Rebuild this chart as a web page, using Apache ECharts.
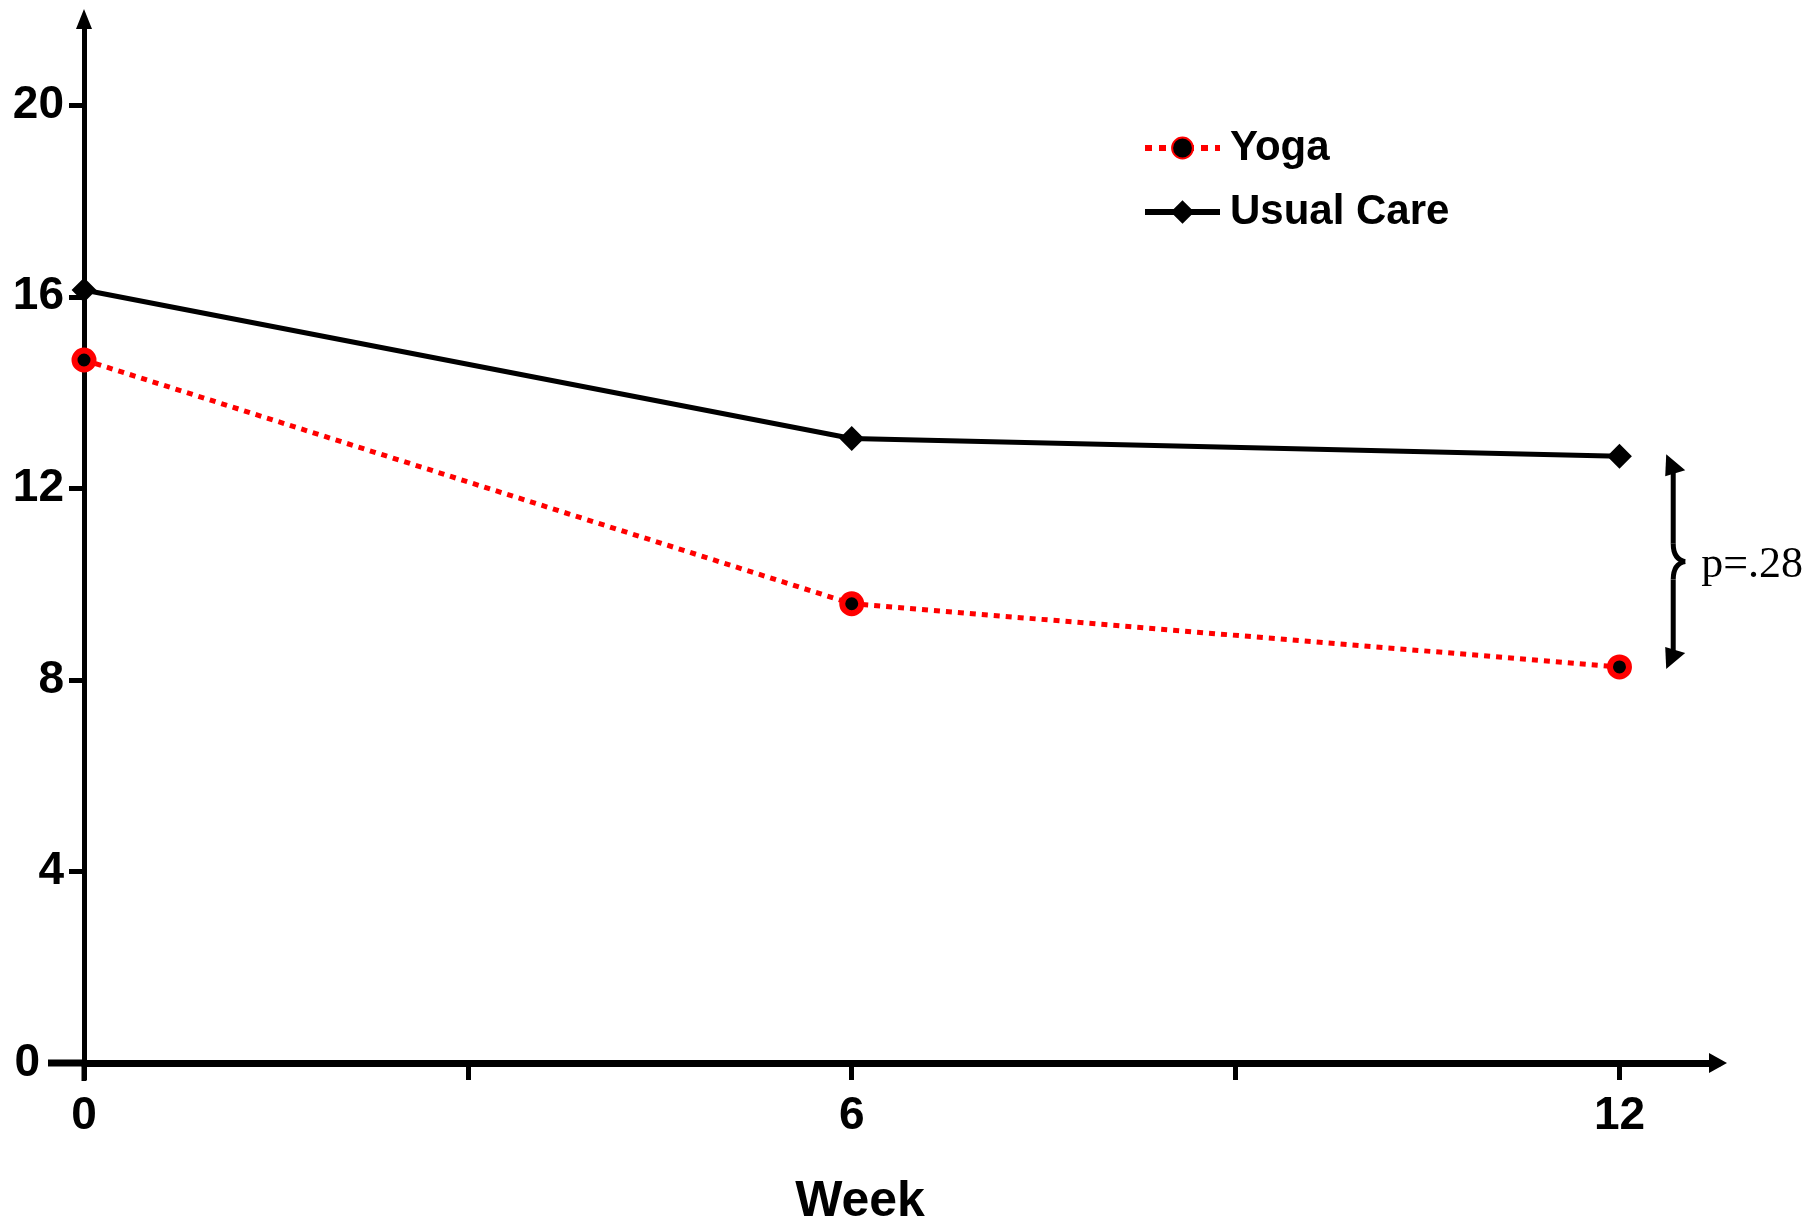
<!DOCTYPE html>
<html>
<head>
<meta charset="utf-8">
<script src="https://cdn.jsdelivr.net/npm/echarts@6/dist/echarts.min.js"></script>
<style>
html, body { margin: 0; padding: 0; background: #fff; }
#main { width: 1810px; height: 1221px; }
</style>
</head>
<body>
<div id="main"></div>
<script>
var weeks = [0, 6, 12];
var yoga = [14.68, 9.59, 8.27];
var usualCare = [16.14, 13.04, 12.67];
var yTicks = [0, 4, 8, 12, 16, 20];
var xTicks = [0, 3, 6, 9, 12];
var xLabels = [0, 6, 12];
var pText = 'p=.28';

var font = '"Liberation Sans", Arial, Helvetica, sans-serif';

function pairs(xs, ys) {
    return xs.map(function (x, i) { return [x, ys[i]]; });
}

var myChart = echarts.init(document.getElementById('main'));
var option = {
    animation: false,
    grid: { left: 84, right: 92, top: 19, bottom: 158, outerBoundsMode: 'none', containLabel: false },
    legend: {
        orient: 'vertical',
        left: 1137,
        top: 122,
        itemWidth: 75,
        itemHeight: 26,
        itemGap: 22,
        data: [
            { name: 'Yoga', lineStyle: { color: '#ff0000', width: 6, type: [7, 7] } },
            { name: 'Usual Care', lineStyle: { color: '#000', width: 6 } }
        ],
        textStyle: { fontSize: 42, fontWeight: 'bold', fontFamily: font, color: '#000', padding: [0, 0, 0, 5] }
    },
    xAxis: {
        type: 'value',
        min: 0,
        max: 12.77,
        name: 'Week',
        nameLocation: 'middle',
        nameGap: 114,
        nameTextStyle: { fontSize: 50, fontWeight: 'bold', fontFamily: font, color: '#000', padding: [0, 82, 0, 0] },
        splitLine: { show: false },
        axisLine: { lineStyle: { color: '#000', width: 7 }, symbol: ['none', 'triangle'], symbolSize: [20, 18] },
        axisTick: { show: true, length: 17, lineStyle: { color: '#000', width: 5 }, customValues: xTicks },
        axisLabel: { margin: 30, fontSize: 46, fontWeight: 'bold', fontFamily: font, color: '#000', customValues: xLabels }
    },
    yAxis: {
        type: 'value',
        min: 0,
        max: 21.8,
        splitLine: { show: false },
        axisLine: { lineStyle: { color: '#000', width: 5 }, symbol: ['none', 'triangle'], symbolSize: [16, 20] },
        axisTick: { show: true, length: 15, lineStyle: { color: '#000', width: 5 }, customValues: yTicks },
        axisLabel: {
            margin: 20, fontSize: 46, fontWeight: 'bold', fontFamily: font, color: '#000', customValues: yTicks,
            formatter: function (v) { return v === 0 ? '{z|0}' : String(v); },
            rich: { z: { fontSize: 46, fontWeight: 'bold', fontFamily: font, color: '#000', padding: [0, 24, 0, 0] } }
        }
    },
    series: [
        {
            name: 'Yoga',
            type: 'line',
            clip: false,
            z: 3,
            data: pairs(weeks, yoga),
            symbol: 'circle',
            symbolSize: 19,
            itemStyle: { color: '#000', borderColor: '#ff0000', borderWidth: 6 },
            lineStyle: { color: '#ff0000', width: 5, type: [6, 6], cap: 'butt' }
        },
        {
            name: 'Usual Care',
            type: 'line',
            clip: false,
            z: 4,
            data: pairs(weeks, usualCare),
            symbol: 'diamond',
            symbolSize: 22,
            itemStyle: { color: '#000', borderColor: '#000', borderWidth: 2 },
            lineStyle: { color: '#000', width: 5 }
        }
    ]
};
myChart.setOption(option);

// bracket with p value between the week 12 points
var bx = 12.42;
var pTop = myChart.convertToPixel({ gridIndex: 0 }, [bx, usualCare[2]]);
var pBot = myChart.convertToPixel({ gridIndex: 0 }, [bx, yoga[2]]);
var origin = myChart.convertToPixel({ gridIndex: 0 }, [0, 0]);
var x = pTop[0], yt = pTop[1], yb = pBot[1], ym = (yt + yb) / 2;
var stroke = { stroke: '#000', lineWidth: 5, fill: null };

myChart.setOption({
    graphic: [
        // axis overhangs at the origin
        { type: 'polyline', shape: { points: [[origin[0] - 36, origin[1]], [origin[0], origin[1]]] }, style: { stroke: '#000', lineWidth: 7 } },
        { type: 'polyline', shape: { points: [[origin[0], origin[1]], [origin[0], origin[1] + 18]] }, style: { stroke: '#000', lineWidth: 5 } },
        { type: 'polyline', shape: { points: [[x, yt + 12], [x, ym - 18]] }, style: stroke },
        { type: 'bezierCurve', shape: { x1: x, y1: ym - 18, cpx1: x, cpy1: ym - 2, x2: x + 12, y2: ym }, style: stroke },
        { type: 'bezierCurve', shape: { x1: x + 12, y1: ym, cpx1: x, cpy1: ym + 2, x2: x, y2: ym + 18 }, style: stroke },
        { type: 'polyline', shape: { points: [[x, ym + 18], [x, yb - 12]] }, style: stroke },
        { type: 'polygon', shape: { points: [[x - 7, yt - 2], [x - 8, yt + 20], [x + 12, yt + 14]] }, style: { fill: '#000' } },
        { type: 'polygon', shape: { points: [[x - 7, yb + 2], [x - 8, yb - 20], [x + 12, yb - 14]] }, style: { fill: '#000' } },
        {
            type: 'text',
            x: x + 28,
            y: ym + 4,
            style: {
                text: pText,
                font: '44px "Liberation Serif", "Times New Roman", serif',
                fill: '#000',
                verticalAlign: 'middle',
                shadowColor: 'rgba(0,0,0,0.4)',
                shadowOffsetX: 2,
                shadowOffsetY: 2,
                shadowBlur: 3
            }
        }
    ]
});
</script>
</body>
</html>
